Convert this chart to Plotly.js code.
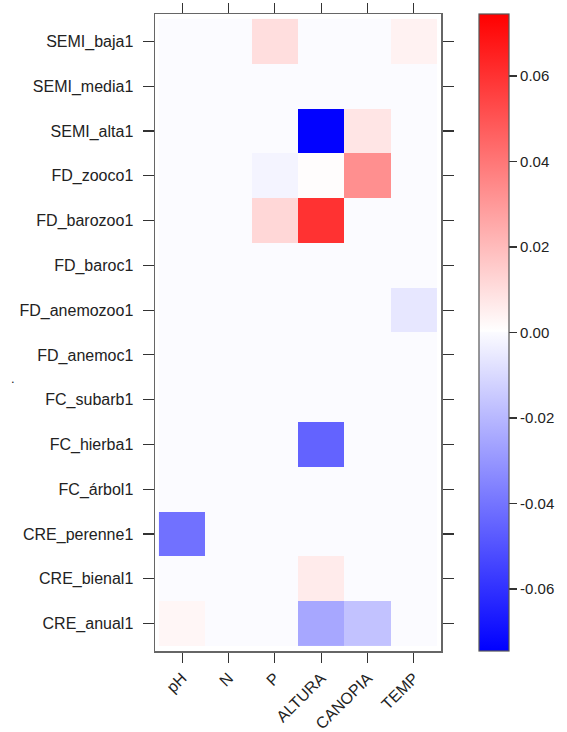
<!DOCTYPE html>
<html>
<head>
<meta charset="utf-8">
<script src="https://cdn.plot.ly/plotly-3.0.1.min.js"></script>
<style>
  html, body { margin: 0; padding: 0; background: #ffffff; }
  #chart { width: 567px; height: 732px; }
</style>
</head>
<body>
<div id="chart"></div>
<script>
// Predictor variables (columns)
const variables = ["pH", "N", "P", "ALTURA", "CANOPIA", "TEMP"];

// Functional traits (rows, top to bottom)
const traits = [
  "SEMI_baja1", "SEMI_media1", "SEMI_alta1", "FD_zooco1", "FD_barozoo1",
  "FD_baroc1", "FD_anemozoo1", "FD_anemoc1", "FC_subarb1", "FC_hierba1",
  "FC_árbol1", "CRE_perenne1", "CRE_bienal1", "CRE_anual1"
];

// Coefficients per trait, in the order of `variables`
const SEMI_baja1   = [0, 0, 0.010, 0, 0, 0.004];
const SEMI_media1  = [0, 0, 0, 0, 0, 0];
const SEMI_alta1   = [0, 0, 0, -0.074, 0.008, 0];
const FD_zooco1    = [0, 0, -0.002, 0.001, 0.033, 0];
const FD_barozoo1  = [0, 0, 0.012, 0.060, 0, 0];
const FD_baroc1    = [0, 0, 0, 0, 0, 0];
const FD_anemozoo1 = [0, 0, 0, 0, 0, -0.006];
const FD_anemoc1   = [0, 0, 0, 0, 0, 0];
const FC_subarb1   = [0, 0, 0, 0, 0, 0];
const FC_hierba1   = [0, 0, 0, -0.045, 0, 0];
const FC_arbol1    = [0, 0, 0, 0, 0, 0];
const CRE_perenne1 = [-0.041, 0, 0, 0, 0, 0];
const CRE_bienal1  = [0, 0, 0, 0.006, 0, 0];
const CRE_anual1   = [0.003, 0, 0, -0.025, -0.017, 0];

// Colour bar ticks
const cbTickVals = [-0.06, -0.04, -0.02, 0.00, 0.02, 0.04, 0.06];
const cbTickText = ["-0.06", "-0.04", "-0.02", "0.00", "0.02", "0.04", "0.06"];

const zLimit = 0.0745;

const zRows = [
  SEMI_baja1, SEMI_media1, SEMI_alta1, FD_zooco1, FD_barozoo1,
  FD_baroc1, FD_anemozoo1, FD_anemoc1, FC_subarb1, FC_hierba1,
  FC_arbol1, CRE_perenne1, CRE_bienal1, CRE_anual1
];

const fontFamily = "'Liberation Sans', Arial, sans-serif";
const font = { family: fontFamily, size: 16, color: "#222222" };
const cbFont = { family: fontFamily, size: 15, color: "#222222" };

const trace = {
  type: "heatmap",
  x: variables,
  y: traits,
  z: zRows,
  zmin: -zLimit,
  zmax: zLimit,
  colorscale: [
    [0, "#0000FF"],
    [0.5, "#FBFBFF"],
    [0.502, "#FFFFFF"],
    [1, "#FF0000"]
  ],
  hoverinfo: "skip",
  colorbar: {
    x: (482 - 155) / 289,
    xanchor: "left",
    xpad: 0,
    y: 1,
    yanchor: "top",
    ypad: 0,
    len: 637,
    lenmode: "pixels",
    thickness: 30,
    outlinewidth: 1.2,
    outlinecolor: "#555555",
    ticks: "outside",
    ticklen: 8,
    tickwidth: 1.2,
    tickcolor: "#333333",
    tickvals: cbTickVals,
    ticktext: cbTickText,
    tickfont: cbFont
  }
};

const layout = {
  width: 567,
  height: 732,
  margin: { l: 155, r: 123, t: 14, b: 81 },
  paper_bgcolor: "#ffffff",
  plot_bgcolor: "#ffffff",
  font: font,
  showlegend: false,
  xaxis: {
    type: "category",
    range: [-0.585, 5.585],
    showline: true,
    linecolor: "#666666",
    linewidth: 1.5,
    mirror: "ticks",
    ticks: "outside",
    ticklen: 10,
    tickwidth: 1.2,
    tickcolor: "#333333",
    tickangle: -45,
    tickfont: font,
    showgrid: false,
    zeroline: false,
    fixedrange: true
  },
  yaxis: {
    type: "category",
    range: [13.61, -0.61],
    showline: true,
    linecolor: "#666666",
    linewidth: 1.5,
    mirror: "ticks",
    ticks: "outside",
    ticklen: 11,
    tickwidth: 1.2,
    tickcolor: "#333333",
    ticklabelstandoff: 6,
    tickfont: font,
    showgrid: false,
    zeroline: false,
    fixedrange: true
  },
  annotations: [
    {
      text: ".",
      xref: "paper",
      yref: "paper",
      x: (7 - 155) / 289,
      y: (651 - 378) / 637,
      showarrow: false,
      font: { family: fontFamily, size: 13, color: "#222222" }
    }
  ]
};

Plotly.newPlot("chart", [trace], layout, { displayModeBar: false, staticPlot: true });
</script>
</body>
</html>
